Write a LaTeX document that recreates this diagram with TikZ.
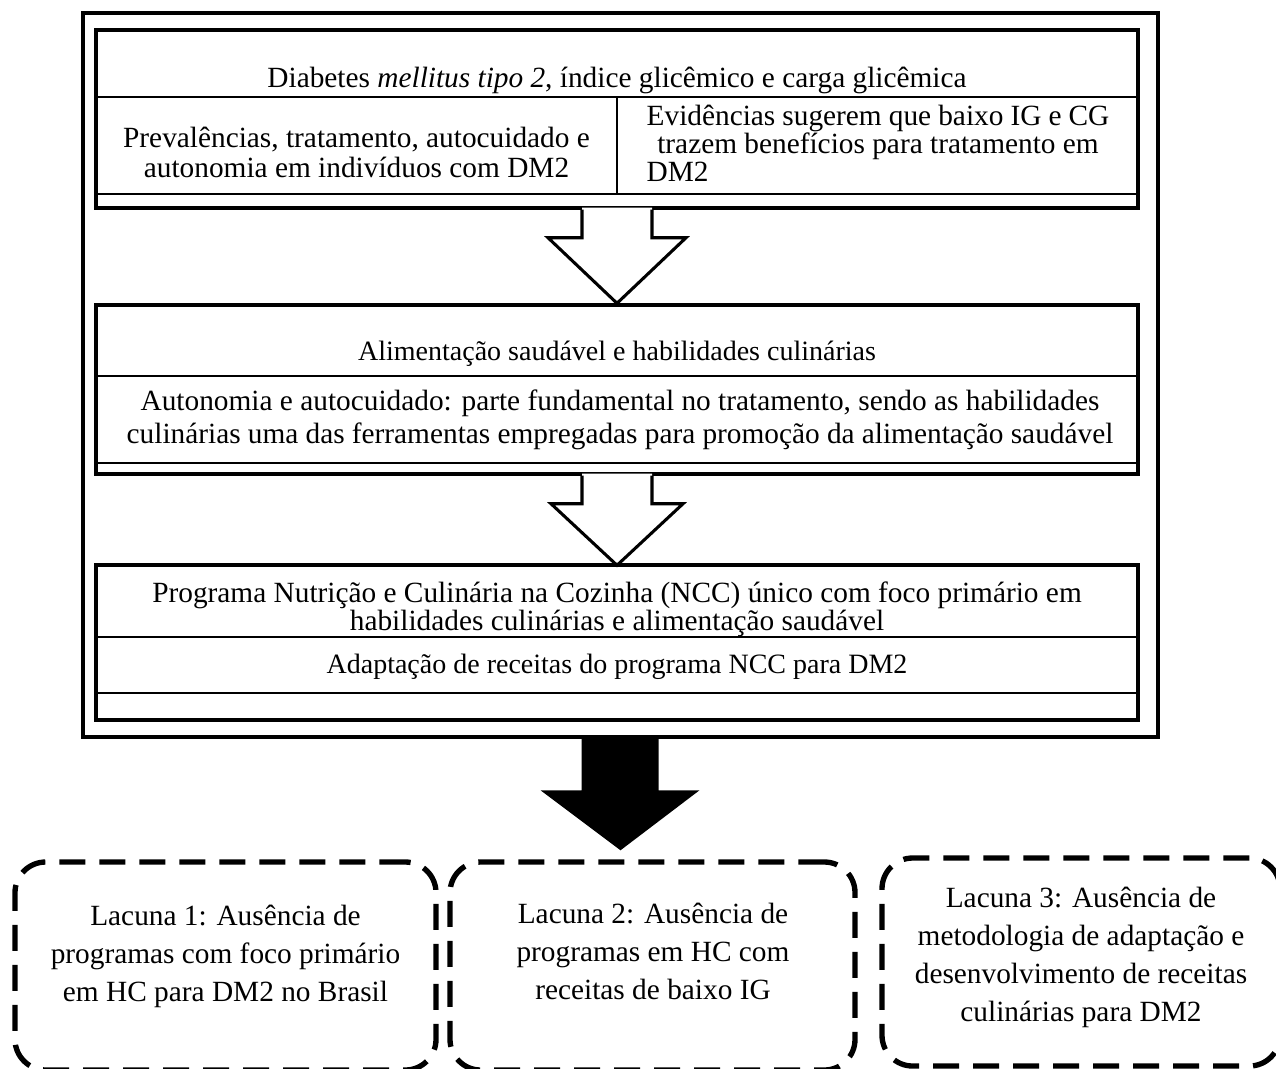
\documentclass[tikz,border=0pt]{standalone}
\usepackage{fontspec}
\setmainfont{Liberation Serif}
\usetikzlibrary{fit,calc}
% body size with a given line spacing
\newcommand\bodysize[1]{\fontsize{22}{#1}\selectfont}

\begin{document}
\begin{tikzpicture}[x=0.75pt,y=-0.75pt,
  frame/.style={draw,line width=3.4pt,inner sep=0pt},
  panel/.style={draw,line width=2.6pt,inner sep=0pt},
  cell/.style={draw,line width=1.9pt,inner sep=0pt},
  txt/.style={inner sep=0pt,anchor=base,align=flush center,font=\bodysize{21}},
  gaptxt/.style={txt,text width=330pt,font=\bodysize{28.5}},
  hollow/.style={draw,line width=2.3pt,line join=miter},
  gapbox/.style={draw,line width=4pt,dash pattern=on 19.5pt off 10.5pt,rounded corners=23pt,inner sep=0pt}]
\useasboundingbox (0,0) rectangle (1276,1068);
\clip (0,0) rectangle (1276,1068);

% outer frame
\node[frame,fit={(83,13)(1158,737)}] (outer) {};

% first panel: topic and its two findings
\node[cell,fit={(96,30)(1138,97)}] (h1) {};
\node[cell,fit={(96,97)(617,194)}] (l1) {};
\node[cell,fit={(617,97)(1138,194)}] (r1) {};
\node[cell,fit={(96,194)(1138,208)}] (f1) {};
\node[panel,fit={(96,30)(1138,208)}] (p1) {};
\node[txt] (h1t) at (617,87) {Diabetes \textit{mellitus tipo 2}, índice glicêmico e carga glicêmica};
\node[txt,text width=380pt,font=\bodysize{22.5}] (l1t) at (356.5,147) {Prevalências, tratamento, autocuidado e\\autonomia em indivíduos com DM2};
\node[txt,text width=347pt] (r1t) at (878,125) {Evidências sugerem que baixo IG e CG\\trazem benefícios para tratamento em\\\makebox[\linewidth][l]{DM2}};

% second panel
\node[cell,fit={(96,305)(1138,376)}] (h2) {};
\node[cell,fit={(96,376)(1138,463)}] (b2) {};
\node[cell,fit={(96,463)(1138,474)}] (f2) {};
\node[panel,fit={(96,305)(1138,474)}] (p2) {};
\node[txt,font=\fontsize{21}{21}\selectfont] (h2t) at (617,360) {Alimentação saudável e habilidades culinárias};
\node[txt,text width=740pt,font=\bodysize{24.75}] (b2t) at (620,410) {Autonomia e autocuidado: parte fundamental no tratamento, sendo as habilidades\\culinárias uma das ferramentas empregadas para promoção da alimentação saudável};

% third panel
\node[cell,fit={(96,565)(1138,637)}] (h3) {};
\node[cell,fit={(96,637)(1138,693)}] (b3) {};
\node[cell,fit={(96,693)(1138,720)}] (f3) {};
\node[panel,fit={(96,565)(1138,720)}] (p3) {};
\node[txt,text width=740pt] (h3t) at (617,602) {Programa Nutrição e Culinária na Cozinha (NCC) único com foco primário em\\habilidades culinárias e alimentação saudável};
\node[txt,font=\fontsize{21}{21}\selectfont] (b3t) at (617,673) {Adaptação de receitas do programa NCC para DM2};

% hollow block arrows between the panels
\fill[white] ($(p1.south)+(-35,-2)$) -- ++(0,30) -- ++(-34,0) -- (p2.north) -- ($(p1.south)+(69,28)$) -- ++(-34,0) -- ++(0,-30) -- cycle;
\draw[hollow] ($(p1.south)+(-35,0)$) -- ++(0,28) -- ++(-34,0) -- (p2.north) -- ($(p1.south)+(69,28)$) -- ++(-34,0) -- ++(0,-28);
\fill[white] ($(p2.south)+(-35,-2)$) -- ++(0,30) -- ++(-31,0) -- ($(p3.north)+(0,2)$) -- ($(p2.south)+(66,28)$) -- ++(-31,0) -- ++(0,-30) -- cycle;
\draw[hollow] ($(p2.south)+(-35,0)$) -- ++(0,28) -- ++(-31,0) -- ($(p3.north)+(0,2)$) -- ($(p2.south)+(66,28)$) -- ++(-31,0) -- ++(0,-28);

% solid arrow down to the gaps
\coordinate (tip) at ($(outer.south)+(0,111)$);
\fill ($(outer.south)+(-39,-4)$) -- ++(0,55) -- ++(-41,0) -- (tip) -- ($(outer.south)+(79,51)$) -- ++(-41,0) -- ++(0,-55) -- cycle;

% research gaps
\node[gapbox,fit={(15,862)(436,1070)}] (g1) {};
\node[gapbox,fit={(450,862)(855,1070)}] (g2) {};
\node[gapbox,fit={(882,858)(1280,1066)}] (g3) {};
\node[gaptxt] (g1t) at (225.5,925) {Lacuna 1: Ausência de\\programas com foco primário\\em HC para DM2 no Brasil};
\node[gaptxt] (g2t) at (653,923) {Lacuna 2: Ausência de\\programas em HC com\\receitas de baixo IG};
\node[gaptxt] (g3t) at (1081,907) {Lacuna 3: Ausência de\\metodologia de adaptação e\\desenvolvimento de receitas\\culinárias para DM2};
\end{tikzpicture}
\end{document}
